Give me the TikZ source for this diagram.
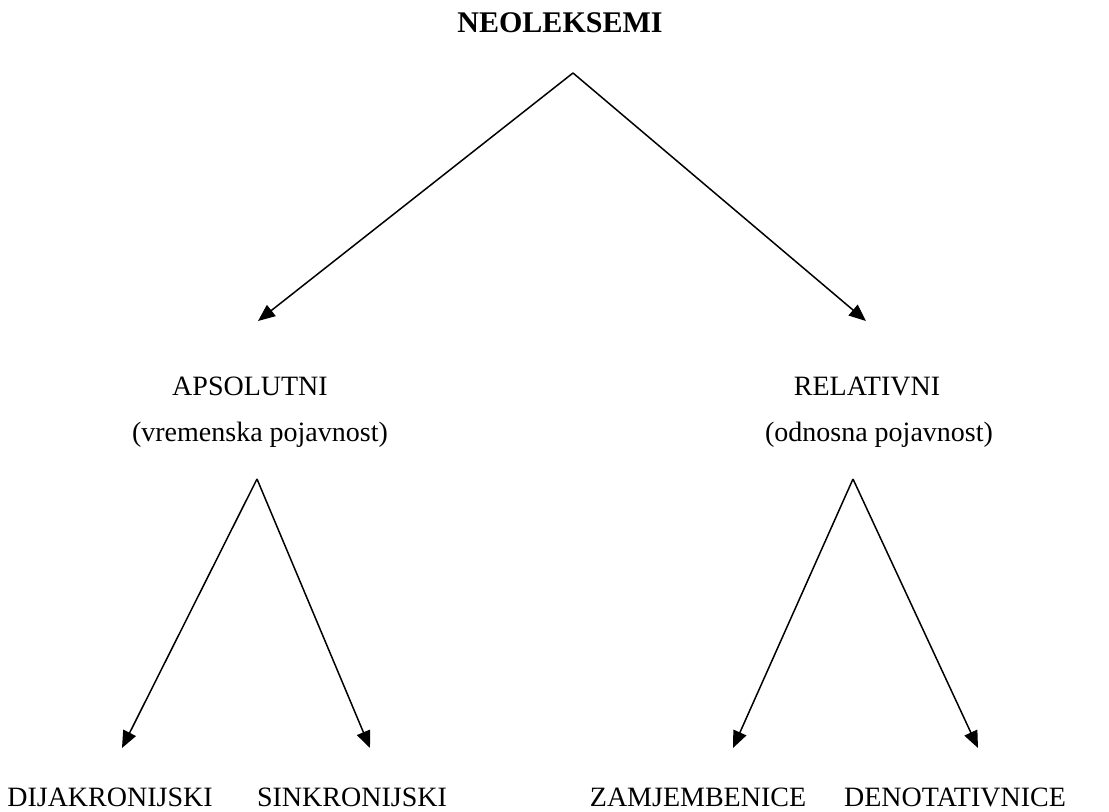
\documentclass[tikz,border=0pt]{standalone}
\usepackage{fontspec}
\setmainfont{Liberation Serif}
\usetikzlibrary{arrows.meta}
\tikzset{lbl/.style={inner sep=0pt,anchor=base,font=\fontsize{14}{16}\selectfont}}
\tikzset{arr/.style={-{Triangle[length=8.5pt,width=7pt]},line width=0.75pt}}

\begin{document}
\begin{tikzpicture}[x=0.5pt,y=-0.5pt]
\useasboundingbox (0,0) rectangle (1109,812);
% \draw[help lines,step=50] (0,0) grid (1109,812);
\node (neo) [lbl,font=\fontsize{15}{17}\selectfont\bfseries] at (560,33) {NEOLEKSEMI};
%
\node (aps) [lbl] at (250,396) {APSOLUTNI};
\node (apsopis) [lbl] at (260,442) {(vremenska pojavnost)};
\node (rel) [lbl] at (867,396) {RELATIVNI};
\node (relopis) [lbl] at (879,442) {(odnosna pojavnost)};
%
\node (dija) [lbl] at (110,806) {DIJAKRONIJSKI};
\node (sink) [lbl] at (352,806) {SINKRONIJSKI};
\node (zamj) [lbl] at (698,806) {ZAMJEMBENICE};
\node (deno) [lbl] at (955,806) {DENOTATIVNICE};
%
\coordinate (neoV) at (573,73);
\coordinate (apsV) at (257,479);
\coordinate (relV) at (853,479);
\coordinate (apsT) at (258,321);
\coordinate (relT) at (866,321);
\coordinate (dijaT) at (122,748);
\coordinate (sinkT) at (370,748);
\coordinate (zamjT) at (733,748);
\coordinate (denoT) at (978,748);
%
\path[arr] (neoV) edge (apsT);
\path[arr] (neoV) edge (relT);
\path[arr] (apsV) edge (dijaT);
\path[arr] (apsV) edge (sinkT);
\path[arr] (relV) edge (zamjT);
\path[arr] (relV) edge (denoT);
\end{tikzpicture}
\end{document}
